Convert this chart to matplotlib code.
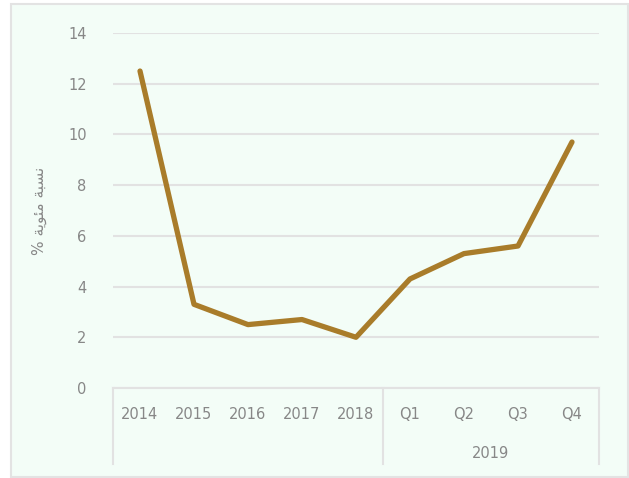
import matplotlib.pyplot as plt
from matplotlib.patches import Rectangle

# data
categories = ["2014", "2015", "2016", "2017", "2018", "Q1", "Q2", "Q3", "Q4"]
values = [12.5, 3.3, 2.5, 2.7, 2.0, 4.3, 5.3, 5.6, 9.7]
group_label = "2019"
y_ticks = [0, 2, 4, 6, 8, 10, 12, 14]
# "نسبة مئوية %" pre-shaped in visual order (matplotlib has no Arabic shaping)
y_label = "% \uFE94\uFEF3\uFEEE\uFE8C\uFEE3 \uFE94\uFE92\uFEB4\uFEE7"

bg = "#f3fdf7"
line_color = "#a97c2a"
grid_color = "#e2e2e2"
text_color = "#878787"

W, H = 629, 478
fig = plt.figure(figsize=(W / 100, H / 100), dpi=100, facecolor="white")
fig.patches.append(Rectangle((11 / W, 1 / H), (W - 12) / W, (H - 5) / H,
                             transform=fig.transFigure, facecolor=bg,
                             edgecolor="#e3e3e3", linewidth=1.5, zorder=-10))

ax = fig.add_axes([113 / W, 1 - 388 / H, (599 - 113) / W, (388 - 33) / H])
ax.set_facecolor("none")
x = list(range(len(categories)))
ax.plot(x, values, color=line_color, linewidth=3.8, solid_capstyle="round",
        solid_joinstyle="round", zorder=3)

ax.set_xlim(-0.5, len(categories) - 0.5)
ax.set_ylim(0, 14)
ax.set_yticks(y_ticks)
ax.yaxis.grid(True, color=grid_color, linewidth=1.5)
ax.set_axisbelow(True)
for s in ax.spines.values():
    s.set_visible(False)
ax.tick_params(axis="y", length=0, pad=19, labelsize=10.5, labelcolor=text_color)
ax.set_xticks(x)
ax.set_xticklabels(categories)
ax.tick_params(axis="x", length=0, pad=14, labelsize=10.5, labelcolor=text_color)

# grouped category axis lines
trans = ax.get_xaxis_transform()
depth = -(464 - 388) / (388 - 33)
ax.plot([-0.5, 8.5], [0, 0], transform=trans, color=grid_color, lw=1.5, clip_on=False)
for xb in [-0.5, 4.5, 8.5]:
    ax.plot([xb, xb], [0, depth], transform=trans, color=grid_color, lw=1.5, clip_on=False)
ax.text(6.5, -(453 - 388) / (388 - 33), group_label, transform=trans, ha="center",
        va="center", fontsize=10.5, color=text_color)

ax.set_ylabel(y_label, fontsize=11, color=text_color, labelpad=15)

fig.savefig("out.png", dpi=100, facecolor="white")
